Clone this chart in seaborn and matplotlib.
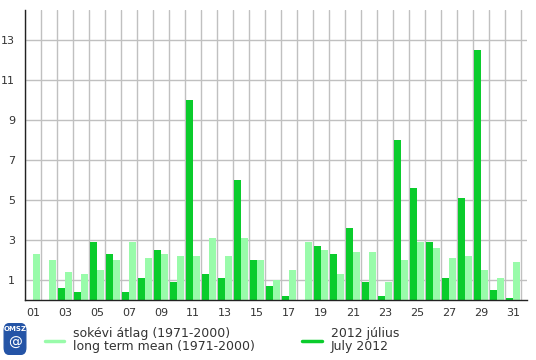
import matplotlib
matplotlib.use("Agg")
import matplotlib.pyplot as plt
import pandas as pd
import seaborn as sns
from matplotlib.lines import Line2D
from matplotlib.patches import FancyBboxPatch
from matplotlib.ticker import FixedLocator, NullFormatter


DAYS = [f"{d:02d}" for d in range(1, 32)]
JULY_2012 = [
    0.0, 0.0, 0.6, 0.4, 2.9, 2.3, 0.4, 1.1, 2.5, 0.9,
    10.0, 1.3, 1.1, 6.0, 2.0, 0.7, 0.2, 0.0, 2.7, 2.3,
    3.6, 0.9, 0.2, 8.0, 5.6, 2.9, 1.1, 5.1, 12.5, 0.5, 0.1,
]
LONG_TERM_MEAN = [
    2.3, 2.0, 1.4, 1.3, 1.5, 2.0, 2.9, 2.1, 2.3, 2.2,
    2.2, 3.1, 2.2, 3.1, 2.0, 1.0, 1.5, 2.9, 2.5, 1.3,
    2.4, 2.4, 0.9, 2.0, 2.9, 2.6, 2.1, 2.2, 1.5, 1.1, 1.9,
]
SERIES = ["2012 július", "sokévi átlag"]
COLORS = {"2012 július": "#0acc2c", "sokévi átlag": "#99fbaa"}
Y_LABELS = [1, 3, 5, 7, 9, 11, 13]


def build_frame() -> pd.DataFrame:
    rows = []
    for day, actual, mean in zip(DAYS, JULY_2012, LONG_TERM_MEAN):
        rows.append({"day": day, "series": SERIES[0], "value": actual})
        rows.append({"day": day, "series": SERIES[1], "value": mean})
    return pd.DataFrame(rows)


def main() -> None:
    sns.set_style("white")
    plt.rcParams["font.family"] = ["DejaVu Sans"]

    df = build_frame()
    fig = plt.figure(figsize=(5.36, 3.6), dpi=100)
    ax = fig.add_axes([25 / 536, 60 / 360, 502 / 536, 290 / 360])

    sns.barplot(
        data=df,
        x="day",
        y="value",
        hue="series",
        hue_order=SERIES,
        order=DAYS,
        palette=COLORS,
        saturation=1,
        width=0.82,
        linewidth=0,
        legend=False,
        ax=ax,
    )

    ax.set_xlim(-0.5, 30.875)
    ax.set_ylim(0, 14.5)
    ax.set_xlabel("")
    ax.set_ylabel("")

    # x: labels on odd days, grid + tick marks on day boundaries
    ax.xaxis.set_major_locator(FixedLocator(list(range(0, 31, 2))))
    ax.set_xticklabels(DAYS[::2])
    ax.xaxis.set_minor_locator(FixedLocator([i - 0.5 for i in range(32)]))
    ax.xaxis.set_minor_formatter(NullFormatter())
    ax.tick_params(axis="x", which="major", length=0, pad=6, labelsize=8, labelcolor="#333333")
    ax.tick_params(axis="x", which="minor", length=4, width=1, color="#333333", direction="out")

    # y: labels on odd values, minor ticks on even values
    ax.yaxis.set_major_locator(FixedLocator(Y_LABELS))
    ax.yaxis.set_minor_locator(FixedLocator(list(range(0, 15, 2))))
    ax.tick_params(axis="y", which="major", length=4, width=1, color="#333333",
                   direction="out", labelsize=8, labelcolor="#333333", pad=3)
    ax.tick_params(axis="y", which="minor", length=4, width=1, color="#333333", direction="out")

    ax.grid(False)
    ax.xaxis.grid(True, which="minor", color="#c0c0c0", linewidth=1)
    ax.yaxis.grid(True, which="major", color="#c0c0c0", linewidth=1)
    ax.set_axisbelow(True)

    for side in ["top", "right"]:
        ax.spines[side].set_visible(False)
    for side in ["left", "bottom"]:
        ax.spines[side].set_color("#222222")
        ax.spines[side].set_linewidth(1)

    # legend
    fig.add_artist(Line2D([45 / 536, 64 / 536], [1 - 341 / 360] * 2,
                          color=COLORS["sokévi átlag"], linewidth=2.5))
    fig.text(73 / 536, 1 - 340 / 360, "sokévi átlag (1971-2000)\nlong term mean (1971-2000)",
             fontsize=9, color="#333333", va="center", linespacing=1.05)
    fig.add_artist(Line2D([302 / 536, 322 / 536], [1 - 341 / 360] * 2,
                          color=COLORS["2012 július"], linewidth=2.5))
    fig.text(331 / 536, 1 - 340 / 360, "2012 július\nJuly 2012",
             fontsize=9, color="#333333", va="center", linespacing=1.05)

    # logo
    logo = fig.add_axes([3 / 536, 4 / 360, 24 / 536, 34 / 360])
    logo.set_axis_off()
    logo.add_patch(FancyBboxPatch((0.05, 0.05), 0.9, 0.9, boxstyle="round,pad=0,rounding_size=0.2",
                                  facecolor="#2454a6", edgecolor="#2454a6"))
    logo.text(0.5, 0.8, "OMSZ", color="white", fontsize=5, fontweight="bold",
              ha="center", va="center")
    logo.text(0.5, 0.38, "@", color="white", fontsize=10, ha="center", va="center")
    logo.set_xlim(0, 1)
    logo.set_ylim(0, 1)

    fig.savefig("out.png", dpi=100)
    plt.close(fig)


if __name__ == "__main__":
    main()
